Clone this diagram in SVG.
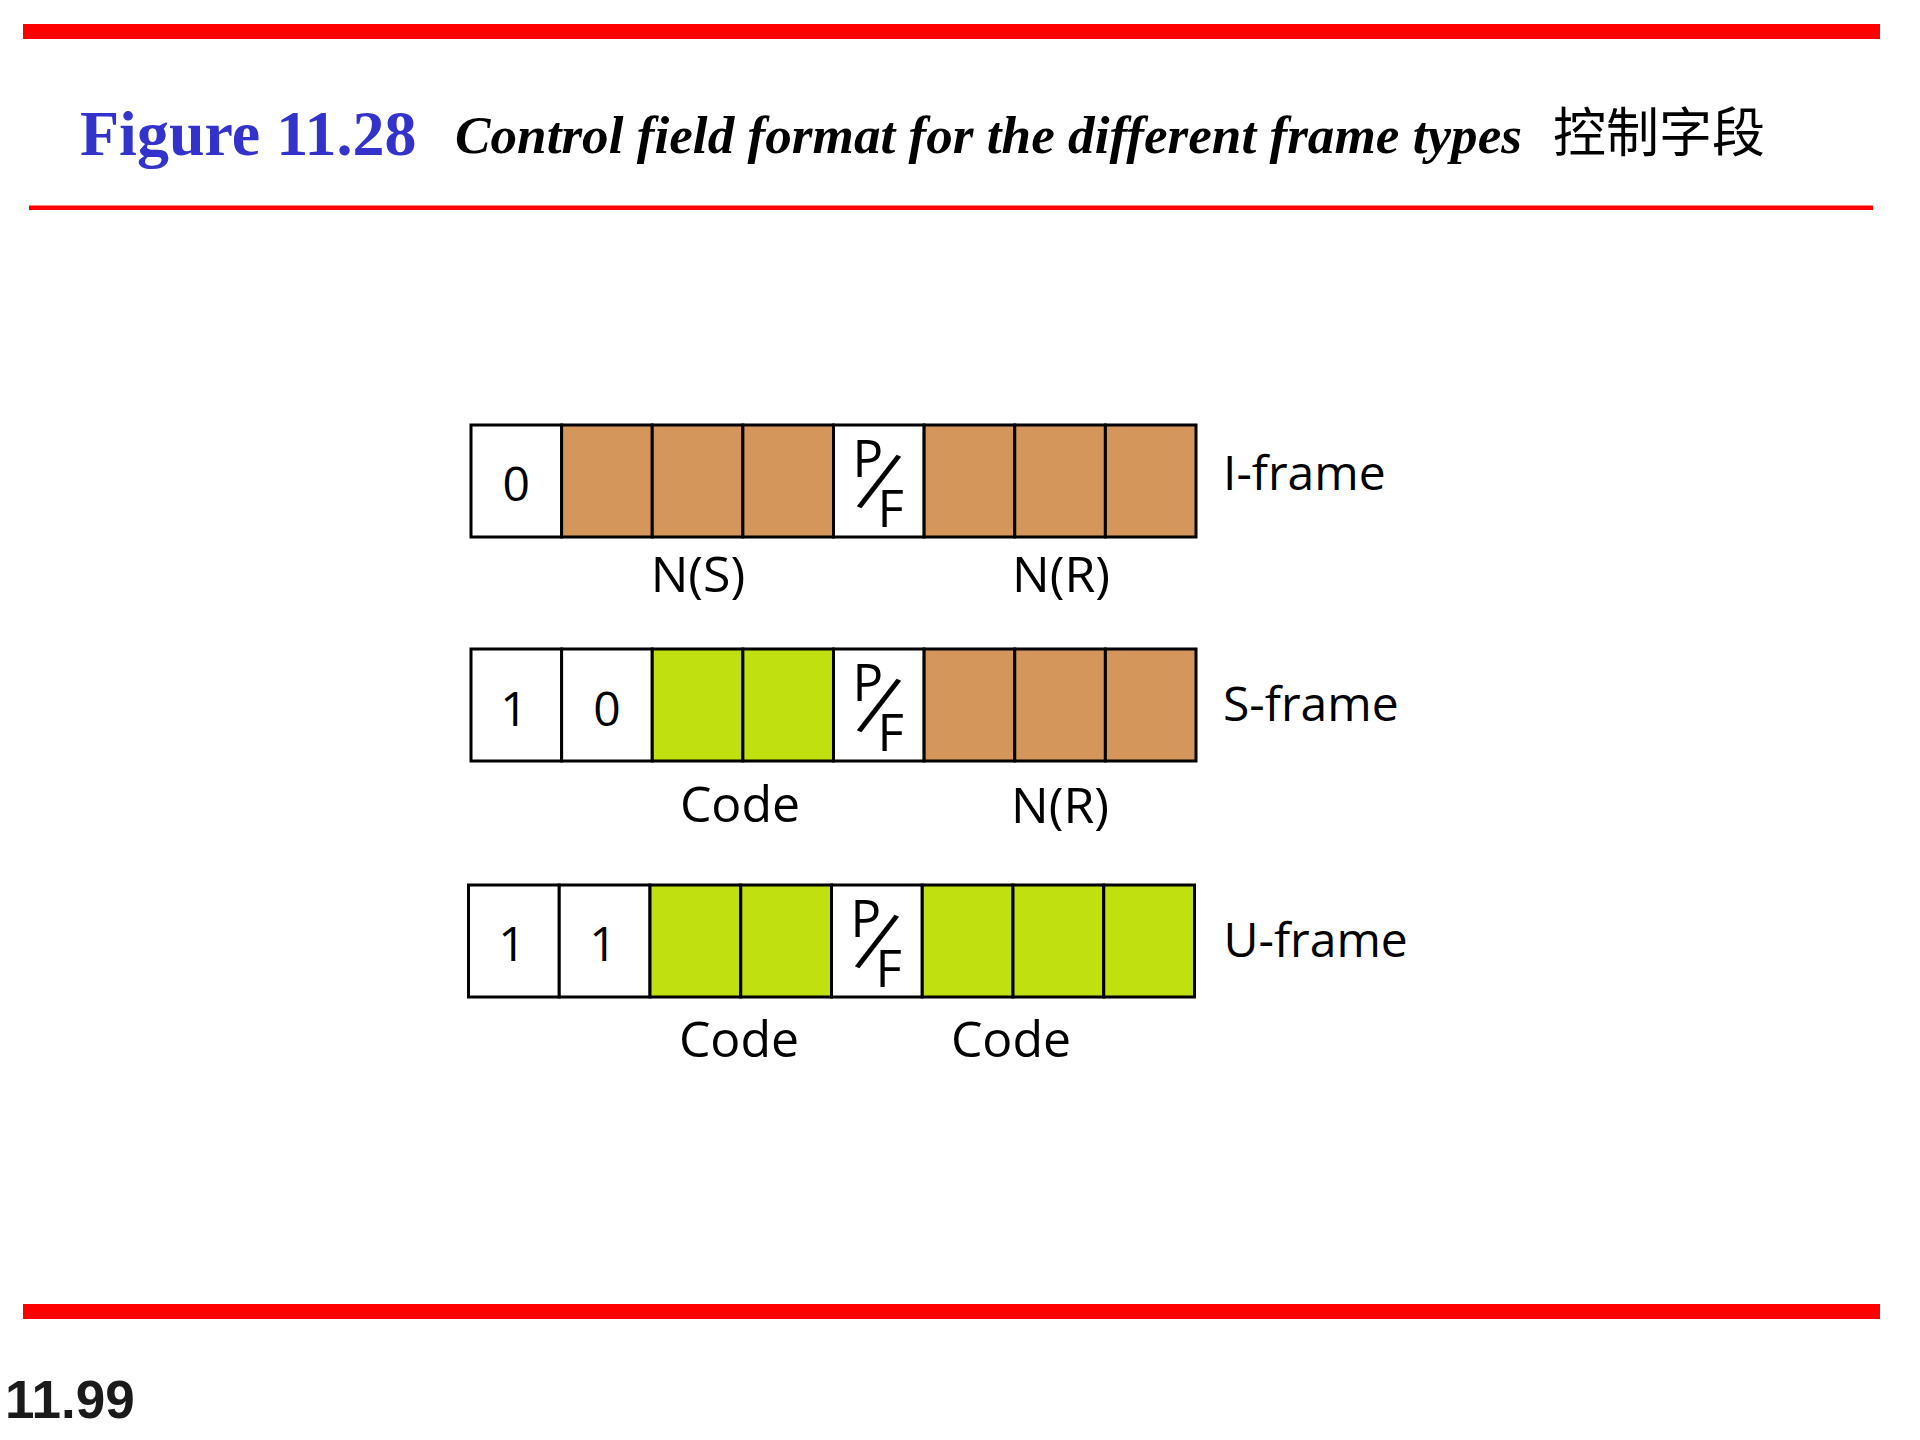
<svg xmlns="http://www.w3.org/2000/svg" width="1920" height="1440" viewBox="0 0 1920 1440">
<style>
.bar{fill:#ff0000}
.c{stroke:#000;stroke-width:3}
.w{fill:#ffffff}
.b{fill:#d4965a}
.g{fill:#c1e00f}
.t{font-family:"Open Sans","Noto Sans","DejaVu Sans",sans-serif;fill:#000}
.lab{font-size:50px}
.fl{font-size:48px}
.dig{font-size:48px;text-anchor:middle}
.pf{font-size:51px}
.mid{text-anchor:middle}
</style>
<defs>
<g id="pfmark">
<text class="t pf" x="19" y="52">P</text>
<text class="t" font-size="62" text-anchor="middle" y="22" transform="translate(45.5,56.7) rotate(23) scale(1,1.42)">/</text>
<text class="t pf" x="44" y="102">F</text>
</g>
</defs>
<rect width="1920" height="1440" fill="#ffffff"/>
<g id="header">
<rect class="bar" x="23" y="24" width="1857" height="15"/>
<text x="80" y="155" font-family="'Liberation Serif','Times New Roman',serif" font-weight="bold" font-size="64" fill="#3333cc">Figure 11.28</text>
<text x="455" y="153" font-family="'Liberation Serif','Times New Roman',serif" font-weight="bold" font-style="italic" font-size="53" fill="#000" textLength="1067" lengthAdjust="spacingAndGlyphs">Control field format for the different frame types</text>
<text x="1553" y="152" font-family="'Noto Sans CJK SC',sans-serif" font-size="53" fill="#000">控制字段</text>
<rect class="bar" x="29" y="205.5" width="1844" height="4.5"/>
</g>
<g id="i-frame">
<rect class="c w" x="471" y="425" width="90.625" height="112"/>
<rect class="c b" x="561.625" y="425" width="90.625" height="112"/>
<rect class="c b" x="652.25" y="425" width="90.625" height="112"/>
<rect class="c b" x="742.875" y="425" width="90.625" height="112"/>
<rect class="c w" x="833.5" y="425" width="90.625" height="112"/>
<rect class="c b" x="924.125" y="425" width="90.625" height="112"/>
<rect class="c b" x="1014.75" y="425" width="90.625" height="112"/>
<rect class="c b" x="1105.375" y="425" width="90.625" height="112"/>
<text class="t dig" x="516.3" y="501">0</text>
<use href="#pfmark" x="833.5" y="425"/>
<text class="t lab mid" x="698" y="592">N(S)</text>
<text class="t lab mid" x="1061" y="592">N(R)</text>
<text class="t fl" x="1223" y="490">I-frame</text>
</g>
<g id="s-frame">
<rect class="c w" x="471" y="649" width="90.625" height="112"/>
<rect class="c w" x="561.625" y="649" width="90.625" height="112"/>
<rect class="c g" x="652.25" y="649" width="90.625" height="112"/>
<rect class="c g" x="742.875" y="649" width="90.625" height="112"/>
<rect class="c w" x="833.5" y="649" width="90.625" height="112"/>
<rect class="c b" x="924.125" y="649" width="90.625" height="112"/>
<rect class="c b" x="1014.75" y="649" width="90.625" height="112"/>
<rect class="c b" x="1105.375" y="649" width="90.625" height="112"/>
<text class="t dig" x="514" y="726">1</text>
<text class="t dig" x="606.9" y="726">0</text>
<use href="#pfmark" x="833.5" y="649"/>
<text class="t lab mid" x="740" y="822">Code</text>
<text class="t lab mid" x="1060" y="823">N(R)</text>
<text class="t fl" x="1223" y="721">S-frame</text>
</g>
<g id="u-frame">
<rect class="c w" x="468.5" y="885" width="90.75" height="112"/>
<rect class="c w" x="559.25" y="885" width="90.75" height="112"/>
<rect class="c g" x="650" y="885" width="90.75" height="112"/>
<rect class="c g" x="740.75" y="885" width="90.75" height="112"/>
<rect class="c w" x="831.5" y="885" width="90.75" height="112"/>
<rect class="c g" x="922.25" y="885" width="90.75" height="112"/>
<rect class="c g" x="1013" y="885" width="90.75" height="112"/>
<rect class="c g" x="1103.75" y="885" width="90.75" height="112"/>
<text class="t dig" x="512" y="961">1</text>
<text class="t dig" x="603" y="961">1</text>
<use href="#pfmark" x="831.5" y="885"/>
<text class="t lab mid" x="739" y="1057">Code</text>
<text class="t lab mid" x="1011" y="1057">Code</text>
<text class="t fl" x="1223.5" y="957">U-frame</text>
</g>
<g id="connectors"/>
<g id="footer">
<rect class="bar" x="23" y="1304" width="1857" height="15"/>
<text x="5" y="1418" font-family="'Liberation Sans',Arial,sans-serif" font-weight="bold" font-size="53" fill="#1a1a1a">11.99</text>
</g>
</svg>
